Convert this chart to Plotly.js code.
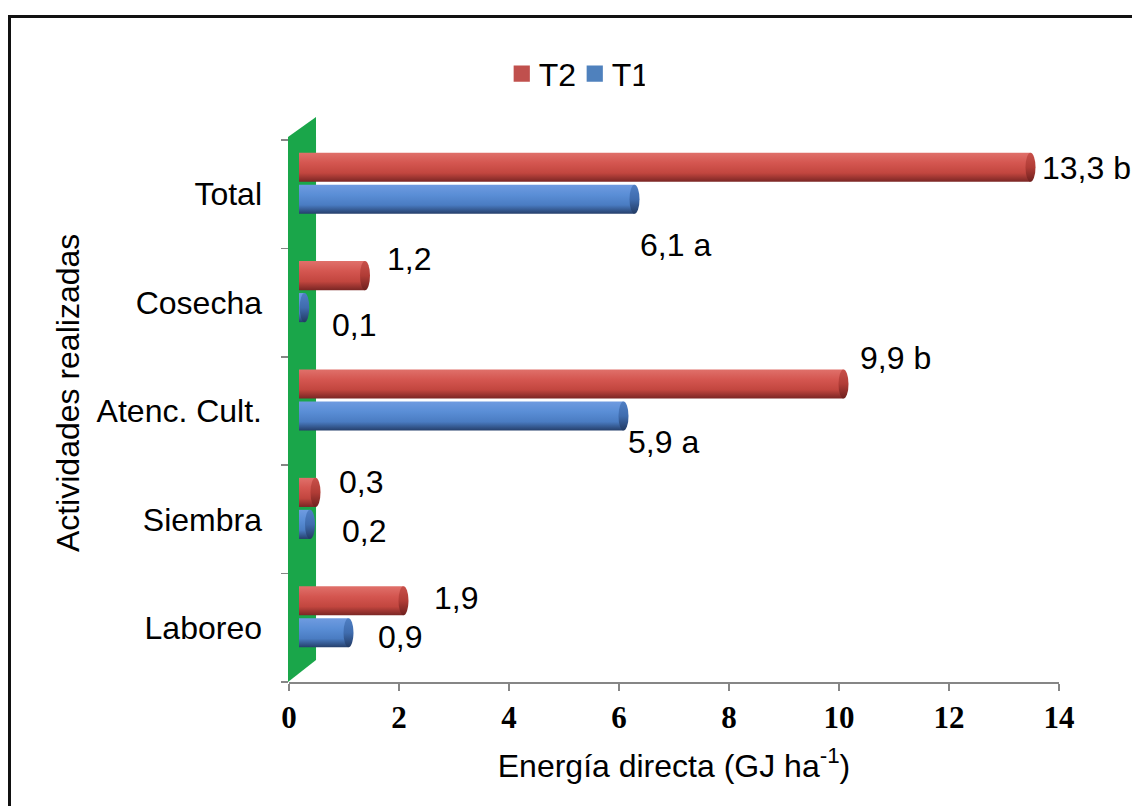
<!DOCTYPE html>
<html><head><meta charset="utf-8">
<script src="https://cdn.plot.ly/plotly-3.0.1.min.js"></script>
<style>
html,body{margin:0;padding:0;background:#fff;overflow:hidden}
#chart{width:1132px;height:806px}
#frame{position:absolute;left:8px;top:15px;width:1200px;height:900px;border-left:3px solid #111;border-top:3px solid #111;pointer-events:none}
</style>
</head><body><div id="chart"></div><div id="frame"></div>
<script>
const categories = ['Laboreo', 'Siembra', 'Atenc. Cult.', 'Cosecha', 'Total'];
const t1Values = [0.9, 0.2, 5.9, 0.1, 6.1];
const t2Values = [1.9, 0.3, 9.9, 1.2, 13.3];
const t1Labels = ['0,9', '0,2', '5,9 a', '0,1', '6,1 a'];
const t2Labels = ['1,9', '0,3', '9,9 b', '1,2', '13,3 b'];
const xTicks = [0, 2, 4, 6, 8, 10, 12, 14];
const xTitle = 'Energía directa (GJ ha<sup>-1</sup>)';
const yTitle = 'Actividades realizadas';

const FONT = '"Liberation Sans", Arial, sans-serif';
const RED = '#c0504d', BLUE = '#4f81bd';
const FS = 32;

// label nudges (pixels) relative to bar end / bar center
const t1Nudge = [[27, -6], [30, -8], [2, -27], [25, -19], [3, -47]];
const t2Nudge = [[28, 4], [21, 12], [14, 28], [20, 18], [9, 1]];

const traces = [
  // empty trace that anchors the visible axes (x / y)
  {type: 'scatter', mode: 'markers', x: [], y: [], xaxis: 'x', yaxis: 'y',
   showlegend: false, hoverinfo: 'skip'},
  {type: 'bar', orientation: 'h', name: 'T1', x: t1Values, y: categories,
   xaxis: 'x2', yaxis: 'y2', marker: {color: BLUE}, hoverinfo: 'x+y'},
  {type: 'bar', orientation: 'h', name: 'T2', x: t2Values, y: categories,
   xaxis: 'x2', yaxis: 'y2', marker: {color: RED}, hoverinfo: 'x+y'}
];

const annotations = [];
categories.forEach((c, i) => {
  annotations.push({xref: 'x2', yref: 'y2', x: t1Values[i], y: c, text: t1Labels[i],
    showarrow: false, xanchor: 'left', yanchor: 'middle',
    xshift: t1Nudge[i][0], yshift: t1Nudge[i][1] - 14.5,
    font: {family: FONT, size: FS, color: '#000'}});
  annotations.push({xref: 'x2', yref: 'y2', x: t2Values[i], y: c, text: t2Labels[i],
    showarrow: false, xanchor: 'left', yanchor: 'middle',
    xshift: t2Nudge[i][0], yshift: t2Nudge[i][1] + 14.5,
    font: {family: FONT, size: FS, color: '#000'}});
});
// y-axis title (placed as in the reference, slightly above the axis centre)
annotations.push({xref: 'paper', yref: 'paper', x: -0.287, y: 0.533, text: yTitle,
  textangle: -90, showarrow: false, xanchor: 'center', yanchor: 'middle',
  font: {family: FONT, size: FS, color: '#000'}});

const shiftX = 10 / 55;      // 3D depth offset in x units
const shiftY = 11 / 108.4;   // 3D depth offset in category units

const layout = {
  width: 1132, height: 806,
  margin: {l: 289, r: 73, t: 140, b: 124, pad: 0},
  paper_bgcolor: '#fff', plot_bgcolor: 'rgba(0,0,0,0)',
  font: {family: FONT, color: '#000', size: FS},
  barmode: 'group', bargap: 0.41, bargroupgap: 0.09,
  showlegend: true,
  legend: {orientation: 'h', x: 0.2724, xanchor: 'left', y: 1.122, yanchor: 'middle',
    traceorder: 'reversed', font: {family: FONT, size: FS, color: '#000'},
    itemwidth: 30, entrywidth: 28, entrywidthmode: 'pixels', bgcolor: 'rgba(0,0,0,0)'},
  xaxis: {range: [0, 14], tickvals: xTicks, ticktext: xTicks.map(String),
    showgrid: false, zeroline: false, showline: true, linecolor: '#868686', linewidth: 2,
    ticks: 'outside', ticklen: 7, tickwidth: 2, tickcolor: '#868686',
    tickfont: {family: '"Liberation Serif", "Times New Roman", serif', size: 31, weight: 'bold', color: '#000'},
    title: {text: xTitle, font: {family: FONT, size: FS, color: '#000'}, standoff: 20},
    fixedrange: true},
  yaxis: {type: 'category', categoryorder: 'array', categoryarray: categories, range: [-0.5, 4.5],
    showgrid: false, zeroline: false, showline: false,
    ticks: 'outside', tickson: 'boundaries', ticklen: 7, tickwidth: 1.5, tickcolor: '#868686',
    ticklabelstandoff: 26,
    tickfont: {family: FONT, size: FS, color: '#000'},
    fixedrange: true},
  xaxis2: {overlaying: 'x', range: [-shiftX, 14 - shiftX], visible: false, fixedrange: true},
  yaxis2: {overlaying: 'y', type: 'category', categoryorder: 'array', categoryarray: categories,
    range: [-0.5 - shiftY, 4.5 - shiftY], visible: false, fixedrange: true},
  shapes: [{type: 'path', xref: 'paper', yref: 'paper', layer: 'below',
    path: 'M -0.0013,0 L -0.0013,1.0055 L 0.0351,1.0424 L 0.0351,0.0406 Z',
    fillcolor: '#1aa64a', line: {width: 0}}],
  annotations: annotations
};

Plotly.newPlot('chart', traces, layout, {displayModeBar: false, staticPlot: true}).then(gd => {
  const svg = gd.querySelector('.main-svg');
  const ns = 'http://www.w3.org/2000/svg';
  const defs = svg.querySelector('defs');
  function grad(id, stops) {
    const g = document.createElementNS(ns, 'linearGradient');
    g.setAttribute('id', id);
    g.setAttribute('x1', '0'); g.setAttribute('y1', '0');
    g.setAttribute('x2', '0'); g.setAttribute('y2', '1');
    stops.forEach(([o, c]) => {
      const s = document.createElementNS(ns, 'stop');
      s.setAttribute('offset', o); s.setAttribute('stop-color', c);
      g.appendChild(s);
    });
    defs.appendChild(g);
  }
  grad('gBlue', [[0, '#6f9be0'], [0.35, '#5a8ed6'], [0.7, '#4a7cc2'], [1, '#253f6b']]);
  grad('gRed', [[0, '#e0706a'], [0.35, '#d45650'], [0.7, '#c2463f'], [1, '#7a2624']]);
  grad('gBlueCap', [[0, '#4f7fc4'], [0.5, '#3f6cae'], [1, '#223a63']]);
  grad('gRedCap', [[0, '#c8504a'], [0.5, '#b13c36'], [1, '#6e201e']]);
  const groups = gd.querySelectorAll('.barlayer .trace');
  groups.forEach((tg, k) => {
    tg.querySelectorAll('.point').forEach(pt => {
      const p = pt.querySelector('path');
      if (!p) return;
      p.style.fill = k === 0 ? 'url(#gBlue)' : 'url(#gRed)';
      const bb = p.getBBox();
      if (bb.width <= 0) return;
      const e = document.createElementNS(ns, 'ellipse');
      e.setAttribute('cx', bb.x + bb.width);
      e.setAttribute('cy', bb.y + bb.height / 2);
      e.setAttribute('rx', Math.min(5, bb.width / 2 + 2));
      e.setAttribute('ry', bb.height / 2);
      e.setAttribute('fill', k === 0 ? 'url(#gBlueCap)' : 'url(#gRedCap)');
      pt.appendChild(e);
    });
  });
  // larger legend swatches, placed like the reference
  gd.querySelectorAll('.legend .legendpoints').forEach(g => {
    g.setAttribute('transform', 'translate(23,0) scale(1.35) translate(-20,0)');
  });
});
</script>
</body></html>
